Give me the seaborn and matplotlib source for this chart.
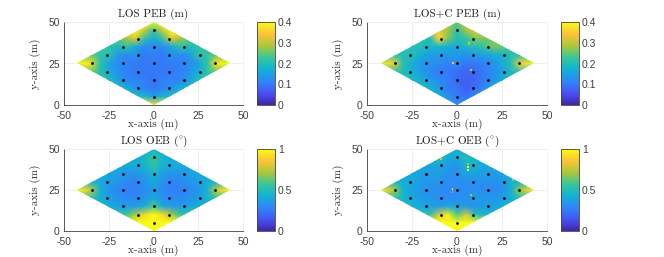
import numpy as np
import matplotlib
matplotlib.use("Agg")
import matplotlib.pyplot as plt
import seaborn as sns
from matplotlib.colors import LinearSegmentedColormap
from matplotlib.patches import Polygon

x_nodes = [-45, -40, -35, -30, -25, -20, -15, -10, -5, 0, 5, 10, 15, 20, 25, 30, 35, 40, 45]
y_nodes = [50, 45, 40, 35, 30, 25, 20, 15, 10, 5, 0]

los_peb = [
    [.40, .40, .40, .40, .40, .40, .40, .40, .40, .40, .40, .40, .40, .40, .40, .40, .40, .40, .40],
    [.40, .40, .40, .40, .40, .40, .40, .40, .31, .22, .31, .40, .40, .40, .40, .40, .40, .40, .40],
    [.25, .25, .25, .25, .25, .24, .28, .32, .22, .16, .22, .32, .28, .24, .25, .25, .25, .25, .25],
    [.22, .22, .22, .22, .21, .19, .21, .16, .12, .12, .12, .16, .21, .19, .21, .22, .22, .22, .22],
    [.26, .26, .26, .21, .21, .14, .12, .13, .10, .11, .10, .13, .12, .14, .21, .21, .26, .26, .26],
    [.40, .40, .37, .22, .15, .12, .11, .10, .10, .10, .10, .10, .11, .12, .15, .22, .37, .40, .40],
    [.26, .26, .26, .21, .17, .13, .11, .10, .10, .10, .10, .10, .11, .13, .17, .21, .26, .26, .26],
    [.22, .22, .22, .22, .20, .15, .11, .11, .11, .09, .11, .11, .11, .15, .20, .22, .22, .22, .22],
    [.20, .20, .20, .20, .20, .20, .17, .13, .11, .10, .11, .13, .17, .20, .20, .20, .20, .20, .20],
    [.20, .20, .20, .20, .20, .20, .20, .20, .18, .15, .18, .20, .20, .20, .20, .20, .20, .20, .20],
    [.38, .38, .38, .38, .38, .38, .38, .38, .38, .38, .38, .38, .38, .38, .38, .38, .38, .38, .38],
]
los_c_peb = [
    [.30, .30, .30, .30, .30, .30, .30, .30, .30, .25, .35, .35, .30, .30, .30, .30, .30, .30, .30],
    [.30, .30, .30, .30, .30, .30, .30, .34, .28, .20, .28, .33, .35, .30, .30, .30, .30, .30, .30],
    [.20, .20, .20, .20, .20, .20, .20, .36, .26, .20, .22, .26, .26, .26, .28, .28, .28, .28, .28],
    [.20, .20, .20, .20, .20, .20, .18, .18, .17, .16, .19, .20, .22, .26, .25, .22, .22, .22, .22],
    [.22, .22, .22, .20, .20, .17, .15, .14, .14, .14, .13, .14, .15, .16, .18, .20, .22, .22, .22],
    [.40, .38, .35, .21, .17, .14, .13, .12, .11, .12, .10, .10, .11, .13, .16, .21, .35, .38, .40],
    [.22, .22, .22, .20, .18, .14, .12, .10, .10, .09, .08, .08, .10, .12, .15, .19, .22, .22, .22],
    [.20, .20, .20, .20, .19, .17, .14, .12, .11, .08, .07, .08, .10, .13, .17, .20, .20, .20, .20],
    [.20, .20, .20, .20, .20, .20, .18, .14, .10, .10, .07, .09, .12, .15, .17, .17, .17, .17, .17],
    [.17, .17, .17, .17, .17, .17, .17, .17, .13, .10, .09, .12, .13, .13, .13, .13, .13, .13, .13],
    [.13, .13, .13, .13, .13, .13, .13, .13, .13, .13, .13, .13, .13, .13, .13, .13, .13, .13, .13],
]
los_oeb = [
    [.45, .45, .45, .45, .45, .45, .45, .45, .45, .45, .45, .45, .45, .45, .45, .45, .45, .45, .45],
    [.42, .42, .42, .42, .42, .42, .42, .40, .45, .55, .45, .40, .42, .42, .42, .42, .42, .42, .42],
    [.42, .42, .42, .42, .42, .42, .42, .42, .45, .55, .45, .42, .42, .42, .42, .42, .42, .42, .42],
    [.42, .42, .42, .42, .40, .38, .33, .33, .38, .45, .38, .33, .33, .38, .40, .42, .42, .42, .42],
    [.50, .50, .46, .42, .37, .33, .30, .28, .33, .40, .33, .28, .30, .33, .37, .42, .46, .50, .50],
    [1.0, .95, .78, .44, .33, .29, .27, .27, .30, .36, .30, .27, .27, .29, .33, .44, .78, .95, 1.0],
    [.60, .60, .55, .44, .37, .33, .30, .30, .33, .40, .33, .30, .30, .33, .37, .44, .55, .60, .60],
    [.48, .48, .48, .48, .42, .38, .36, .36, .42, .60, .42, .36, .36, .38, .42, .48, .48, .48, .48],
    [.60, .60, .60, .60, .60, .55, .55, .72, .90, 1.0, .90, .72, .55, .55, .60, .60, .60, .60, .60],
    [1.0, 1.0, 1.0, 1.0, 1.0, 1.0, 1.0, 1.0, 1.0, 1.0, 1.0, 1.0, 1.0, 1.0, 1.0, 1.0, 1.0, 1.0, 1.0],
    [1.0, 1.0, 1.0, 1.0, 1.0, 1.0, 1.0, 1.0, 1.0, 1.0, 1.0, 1.0, 1.0, 1.0, 1.0, 1.0, 1.0, 1.0, 1.0],
]
los_c_oeb = [
    [.45, .45, .45, .45, .45, .45, .45, .45, .45, .45, .45, .45, .45, .45, .45, .45, .45, .45, .45],
    [.42, .42, .42, .42, .42, .42, .42, .50, .42, .40, .50, .45, .42, .42, .42, .42, .42, .42, .42],
    [.40, .40, .40, .40, .40, .40, .38, .42, .35, .33, .45, .45, .40, .40, .40, .40, .40, .40, .40],
    [.42, .42, .42, .42, .40, .38, .36, .36, .33, .32, .38, .38, .36, .36, .38, .40, .42, .42, .42],
    [.50, .50, .46, .42, .40, .36, .34, .34, .30, .30, .32, .32, .32, .32, .34, .44, .46, .50, .50],
    [1.0, .92, .72, .44, .38, .34, .32, .30, .30, .30, .32, .32, .30, .30, .32, .42, .70, .92, 1.0],
    [.58, .58, .55, .46, .40, .36, .34, .32, .30, .30, .32, .36, .34, .34, .36, .42, .52, .52, .52],
    [.50, .50, .50, .50, .44, .40, .38, .35, .40, .38, .35, .33, .36, .38, .42, .46, .46, .46, .46],
    [.55, .55, .55, .55, .55, .52, .52, .80, .95, .60, .80, .50, .46, .45, .45, .45, .45, .45, .45],
    [1.0, 1.0, 1.0, 1.0, 1.0, 1.0, 1.0, 1.0, 1.0, 1.0, 1.0, 1.0, 1.0, .90, .90, .90, .90, .90, .90],
    [1.0, 1.0, 1.0, 1.0, 1.0, 1.0, 1.0, 1.0, 1.0, 1.0, 1.0, 1.0, 1.0, 1.0, 1.0, 1.0, 1.0, 1.0, 1.0],
]

# anchors (black dots)
anchor_x = [0, -8.7, 8.7, -17.3, 0, 17.3, -26, -8.7, 8.7, 26, -34.6, -17.3, 0, 17.3, 34.6,
            -26, -8.7, 8.7, 26, -17.3, 0, 17.3, -8.7, 8.7, 0]
anchor_y = [45, 40, 40, 35, 35, 35, 30, 30, 30, 30, 25, 25, 25, 25, 25,
            20, 20, 20, 20, 15, 15, 15, 10, 10, 5]

# small outlier spots in the LOS+C maps
peb_spot_x = [-2, 6.5, 6.5, 8]
peb_spot_y = [25.5, 37.5, 36.5, 21]
peb_spot_v = [.34, .33, .30, .30]
oeb_spot_x = [-2.5, -2.5, 6.3, 6.3, 6.3, 8, -9, 31, 6.5]
oeb_spot_y = [25.5, 23.5, 37, 39, 41, 22, 44, 31, 9]
oeb_spot_v = [1.0, .70, .95, .95, .70, .70, .80, .70, .85]

diamond_x = [-42.5, 0, 42.5, 0]
diamond_y = [25, 50, 25, 0]

titles = ["LOS PEB (m)", "LOS+C PEB (m)", r"LOS OEB ($^{\circ}$)", r"LOS+C OEB ($^{\circ}$)"]
xlabel = "x-axis (m)"
ylabel = "y-axis (m)"
x_ticks = [-50, -25, 0, 25, 50]
x_ticklabels = ["-50", "-25", "0", "25", "50"]
y_ticks = [0, 25, 50]
peb_ticks = [0, 0.1, 0.2, 0.3, 0.4]
peb_ticklabels = ["0", "0.1", "0.2", "0.3", "0.4"]
oeb_ticks = [0, 0.5, 1]
oeb_ticklabels = ["0", "0.5", "1"]

parula_colors = ["#3E26A8", "#4852F4", "#2E87F7", "#12B1D6", "#37C897",
                 "#ABC739", "#FEC338", "#F9FB15"]
parula = LinearSegmentedColormap.from_list("parula", parula_colors)

sns.set_theme(style="whitegrid")
plt.rcParams["font.family"] = ["Liberation Sans", "DejaVu Sans"]
plt.rcParams["mathtext.fontset"] = "cm"
plt.rcParams["axes.unicode_minus"] = False
serif = ["cmr10", "DejaVu Serif"]

W, H = 664, 257
fig = plt.figure(figsize=(W / 100, H / 100), dpi=100)
fig.patch.set_facecolor("white")


def px_axes(left, top, right, bottom):
    return fig.add_axes([left / W, 1 - bottom / H, (right - left) / W, (bottom - top) / H])


panels = [
    (los_peb, (64, 22, 243, 105), (257, 22, 275, 105), 0.4, peb_ticks, peb_ticklabels, None),
    (los_c_peb, (367, 22, 547, 105), (561, 22, 579, 105), 0.4, peb_ticks, peb_ticklabels,
     (peb_spot_x, peb_spot_y, peb_spot_v)),
    (los_oeb, (64, 149, 243, 231), (257, 149, 275, 231), 1, oeb_ticks, oeb_ticklabels, None),
    (los_c_oeb, (367, 149, 547, 231), (561, 149, 579, 231), 1, oeb_ticks, oeb_ticklabels,
     (oeb_spot_x, oeb_spot_y, oeb_spot_v)),
]

for i, (grid, ax_box, cb_box, vmax, cticks, clabels, spots) in enumerate(panels):
    ax = px_axes(*ax_box)
    ax.set_axisbelow(True)
    mesh = ax.pcolormesh(x_nodes, y_nodes, np.array(grid), cmap=parula, vmin=0, vmax=vmax,
                         shading="gouraud", zorder=2)
    clip = Polygon(np.column_stack([diamond_x, diamond_y]), closed=True, transform=ax.transData)
    mesh.set_clip_path(clip)

    if spots is not None:
        ax.scatter(spots[0], spots[1], c=spots[2], cmap=parula, vmin=0, vmax=vmax,
                   marker="s", s=2, linewidths=0, zorder=3)

    sns.scatterplot(x=anchor_x, y=anchor_y, color="black", s=4, linewidth=0, ax=ax, zorder=4)

    ax.set_xlim(-50, 50)
    ax.set_ylim(0, 50)
    ax.set_xticks(x_ticks)
    ax.set_xticklabels(x_ticklabels)
    ax.set_yticks(y_ticks)
    ax.grid(True, color="#ececec", linewidth=0.6)
    ax.tick_params(axis="both", labelsize=7.5, length=1.5, width=0.4, direction="in", colors="#404040")
    ax.tick_params(axis="x", pad=4)
    ax.tick_params(axis="y", pad=3)
    for side in ["top", "right"]:
        ax.spines[side].set_color("#eeeeee")
        ax.spines[side].set_linewidth(0.5)
    for side in ["left", "bottom"]:
        ax.spines[side].set_color("#404040")
        ax.spines[side].set_linewidth(0.6)
    ax.set_title(titles[i], fontsize=8, pad=4, color="#202020", family=serif)
    ax.set_xlabel(xlabel, fontsize=8, labelpad=-1, color="#303030", family=serif)
    ax.set_ylabel(ylabel, fontsize=8, color="#303030", family=serif)
    ax.yaxis.set_label_coords(-23 / (ax_box[2] - ax_box[0]), 0.5)

    cax = px_axes(*cb_box)
    cb = fig.colorbar(mesh, cax=cax)
    cb.set_ticks(cticks)
    cb.set_ticklabels(clabels)
    cb.ax.tick_params(labelsize=7.5, length=0, pad=2, colors="#404040")
    cb.outline.set_edgecolor("#404040")
    cb.outline.set_linewidth(0.6)
    cax.grid(False)

fig.savefig("out.png", dpi=100)
